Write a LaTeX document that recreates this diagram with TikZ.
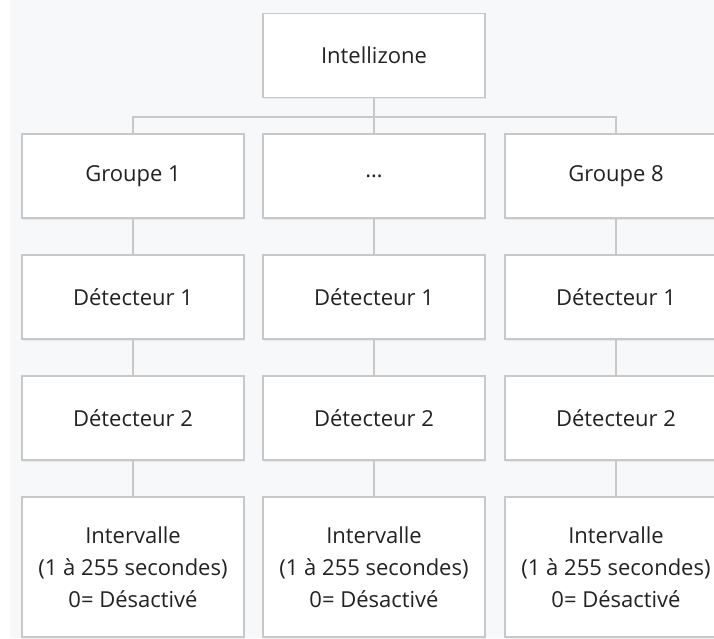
\documentclass[tikz,border=0pt]{standalone}
\usepackage{fontspec}
\setmainfont{Open Sans}
\usetikzlibrary{shadows}
\definecolor{bgcol}{HTML}{F7F8FA}
\definecolor{edgecol}{HTML}{C8C8C8}
\definecolor{txtcol}{HTML}{222222}
\tikzset{
	box/.style={draw=edgecol, line width=1.2pt, fill=white, inner sep=0pt,
		minimum width=222pt, minimum height=84pt, text=txtcol, align=center,
		font=\fontsize{22}{32}\selectfont,
		drop shadow={opacity=0.12, shadow xshift=1pt, shadow yshift=-1.5pt}},
	link/.style={draw=edgecol, line width=1.2pt}
}
\begin{document}
\begin{tikzpicture}[x=1pt,y=-1pt]
	\useasboundingbox (0,0) rectangle (714,638);
	\fill[bgcol] (10,0) rectangle (714,638);
	
	\node[box] (top) at (374,55.5) {Intellizone};
	\coordinate (bus) at (374,117);
	
	% one column per group
	\foreach \c/\x/\g in {a/133/Groupe 1, b/374/\ldots, c/616/Groupe 8} {
		\node[box] (grp\c) at (\x,176) {\g};
		\node[box] (detA\c) at (\x,297) {Détecteur 1};
		\node[box] (detB\c) at (\x,418) {Détecteur 2};
		\node[box, minimum height=140pt] (int\c) at (\x,567)
			{Intervalle\\(1 à 255 secondes)\\0= Désactivé};
		\draw[link] (grp\c) -- (detA\c) -- (detB\c) -- (int\c);
	}
	
	\draw[link] (top.south) -- (bus);
	\draw[link] (grpa.north) |- (bus) -| (grpc.north);
	\draw[link] (bus) -- (grpb.north);
\end{tikzpicture}
\end{document}
